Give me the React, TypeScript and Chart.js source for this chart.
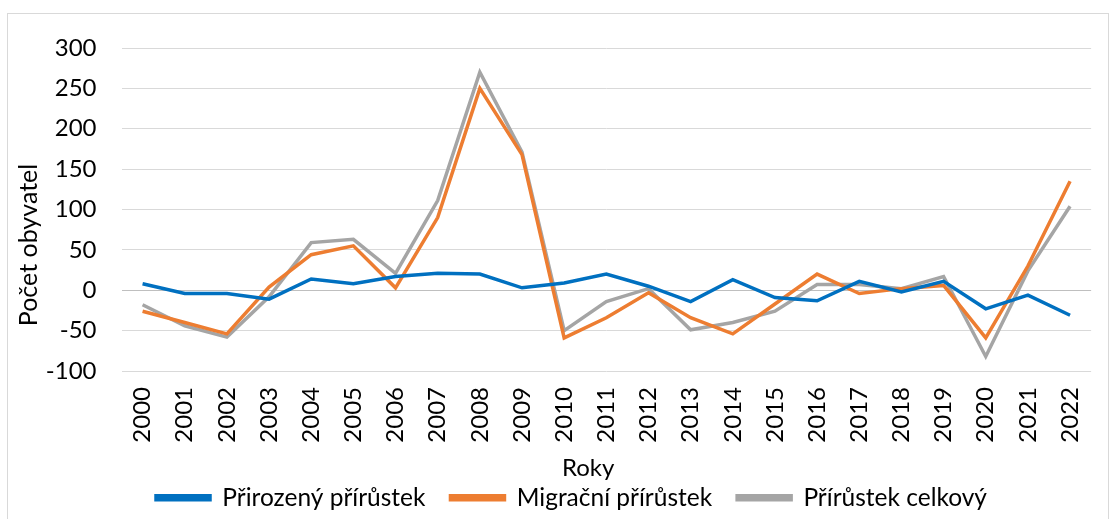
import React, { useEffect, useRef } from "react";
import { Chart, registerables } from "chart.js";

Chart.register(...registerables);

const years = ["2000","2001","2002","2003","2004","2005","2006","2007","2008","2009","2010","2011","2012","2013","2014","2015","2016","2017","2018","2019","2020","2021","2022"];
const prirozeny = [8, -4, -4, -11, 14, 8, 17, 21, 20, 3, 9, 20, 5, -14, 13, -9, -13, 11, -2, 11, -23, -6, -31];
const migracni = [-26, -40, -54, 4, 44, 55, 3, 90, 250, 168, -59, -34, -3, -34, -54, -17, 20, -4, 2, 6, -59, 30, 135];
const celkovy = [-18, -44, -58, -8, 59, 63, 21, 111, 270, 171, -50, -14, 2, -49, -40, -26, 7, 7, 2, 17, -82, 24, 104];
const seriesNames = ["Přirozený přírůstek", "Migrační přírůstek", "Přírůstek celkový"];
const seriesColors = ["#0070C0", "#ED7D31", "#A5A5A5"];
const yMin = -100;
const yMax = 300;
const yStep = 50;
const xTitle = "Roky";
const yTitle = "Počet obyvatel";

const FONT = "Lato, 'Noto Sans', sans-serif";
const SP = "\u00A0";

export default function App() {
  const ref = useRef<HTMLCanvasElement | null>(null);
  useEffect(() => {
    if (!ref.current) return;
    const data = [prirozeny, migracni, celkovy];
    const chart = new Chart(ref.current, {
      type: "line",
      data: {
        labels: years,
        datasets: seriesNames.map((n, i) => ({
          label: n,
          data: data[i],
          borderColor: seriesColors[i],
          backgroundColor: seriesColors[i],
          borderWidth: 3.5,
          pointRadius: 0,
          tension: 0,
        })),
      },
      options: {
        animation: false,
        responsive: false,
        maintainAspectRatio: false,
        layout: { padding: { left: 34.5, top: 48, right: 6.5, bottom: -1 } },
        plugins: {
          tooltip: { enabled: false },
          legend: {
            position: "bottom",
            labels: {
              boxWidth: 54,
              boxHeight: 4,
              padding: 25,
              color: "#000",
              font: { family: FONT, size: 24.5 },
            },
          },
        },
        scales: {
          x: {
            offset: true,
            grid: { display: false, drawTicks: false },
            border: { display: false },
            ticks: {
              minRotation: 90,
              maxRotation: 90,
              padding: 16,
              color: "#000",
              font: { family: FONT, size: 24 },
              autoSkip: false,
            },
            title: {
              display: true,
              text: xTitle + SP.repeat(6),
              color: "#000",
              font: { family: FONT, size: 24 },
              padding: { top: 0, bottom: -22 },
            },
            afterFit: (s: any) => { s.height = 89.5; },
          },
          y: {
            min: yMin,
            max: yMax,
            ticks: {
              stepSize: yStep,
              padding: 25,
              color: "#000",
              font: { family: FONT, size: 24 },
            },
            grid: {
              drawTicks: false,
              color: (ctx: any) => (ctx.tick && ctx.tick.value === 0 ? "#BFBFBF" : "#D9D9D9"),
              lineWidth: 1,
            },
            border: { display: false },
            title: {
              display: true,
              text: SP.repeat(7) + yTitle,
              align: "start",
              color: "#000",
              font: { family: FONT, size: 25 },
              padding: { top: -20.5, bottom: 0 },
            },
            afterFit: (s: any) => { s.width = 87; },
          },
        },
      },
    });
    return () => chart.destroy();
  }, []);
  return (
    <div style={{ position: "fixed", left: 0, top: 0, width: 1115, height: 519, background: "#fff" }}>
      <div style={{ position: "absolute", left: 7, top: 13, width: 1102, height: 520, border: "1px solid #D9D9D9", boxSizing: "border-box" }} />
      <canvas ref={ref} width={1115} height={519} style={{ position: "absolute", left: 0, top: 0 }} />
    </div>
  );
}
